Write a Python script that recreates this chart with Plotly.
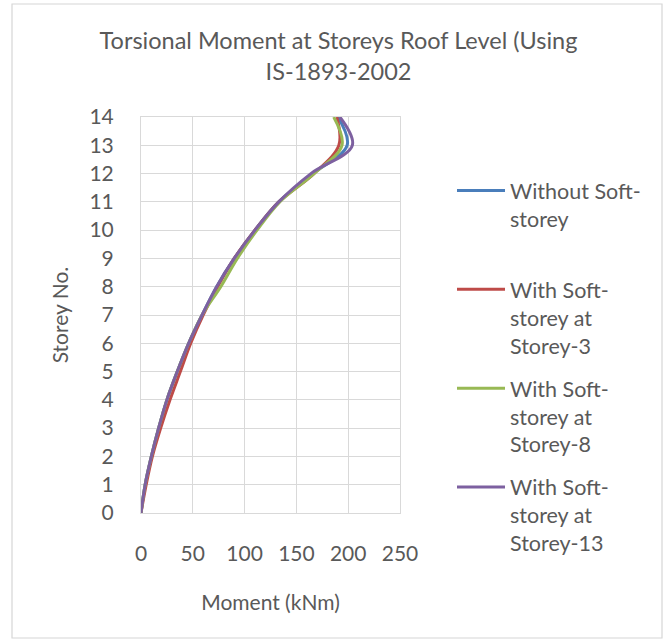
import plotly.graph_objects as go

storeys = list(range(0, 15))
without_soft = [0, 4, 10, 17, 25, 35, 46, 59, 73, 90, 110, 133, 166, 199, 190]
soft_3 = [0, 5, 11, 19, 28, 38, 48, 60, 74, 90, 110, 133, 167, 191, 189]
soft_8 = [0, 4, 10, 17, 25, 35, 46, 59, 77, 93, 112, 134, 167, 194, 186]
soft_13 = [0, 4, 10, 17, 25, 35, 46, 59, 73, 90, 110, 133, 164, 204, 192]

names = ["Without Soft-<br>storey<br> ",
         "With Soft-<br>storey at<br>Storey-3",
         "With Soft-<br>storey at<br>Storey-8",
         "With Soft-<br>storey at<br>Storey-13"]
colors = ["#4A7EBB", "#BE4B48", "#98B954", "#7D60A0"]
series = [without_soft, soft_3, soft_8, soft_13]

FONT = "Lato"
GRAY = "#595959"

fig = go.Figure()
for i, (vals, nm, c) in enumerate(zip(series, names, colors)):
    fig.add_trace(go.Scatter(
        x=vals, y=storeys, mode="lines", name=nm,
        line=dict(color=c, width=3, shape="spline", smoothing=1),
        legendgroup=f"g{i}",
    ))

L, R, T, B = 141, 267, 117, 130
W, H = 667, 643
pw, ph = W - L - R, H - T - B

def px_x(p):
    return (p - L) / pw

def px_y(p):
    return (H - B - p) / ph

fig.update_layout(
    width=W, height=H, autosize=False,
    margin=dict(l=L, r=R, t=T, b=B, pad=0),
    paper_bgcolor="white", plot_bgcolor="white",
    font=dict(family=FONT, color=GRAY, size=21),
    title=dict(text="Torsional Moment at Storeys Roof Level (Using<br>IS-1893-2002",
               x=338.5 / W, xref="container", xanchor="center",
               y=1 - 49 / H, yref="container", yanchor="top",
               font=dict(family=FONT, size=23.5, color=GRAY)),
    legend=dict(x=px_x(452), y=px_y(170), xanchor="left", yanchor="top",
                font=dict(family=FONT, size=21.5, color=GRAY),
                valign="top", itemwidth=48, tracegroupgap=12,
                bgcolor="rgba(0,0,0,0)"),
    xaxis=dict(range=[0, 250], dtick=50, showgrid=True, gridcolor="#D9D9D9",
               gridwidth=1, zeroline=False, showline=True, linecolor="#D9D9D9",
               mirror=True, ticks="", ticklabelstandoff=22,
               tickfont=dict(family=FONT, size=21, color=GRAY),
               title=dict(text="Moment (kNm)", standoff=31,
                          font=dict(family=FONT, size=21, color=GRAY))),
    yaxis=dict(range=[0, 14], dtick=1, showgrid=True, gridcolor="#D9D9D9",
               gridwidth=1, zeroline=False, showline=True, linecolor="#D9D9D9",
               mirror=True, ticks="", ticklabelstandoff=22,
               tickfont=dict(family=FONT, size=21, color=GRAY),
               title=dict(text="Storey No.", standoff=15,
                          font=dict(family=FONT, size=21, color=GRAY))),
    shapes=[dict(type="rect", xref="paper", yref="paper",
                 x0=px_x(12), x1=px_x(662), y0=px_y(638), y1=px_y(4),
                 line=dict(color="#D6D6D6", width=1.2), layer="below")],
)

fig.write_html("out.html")
